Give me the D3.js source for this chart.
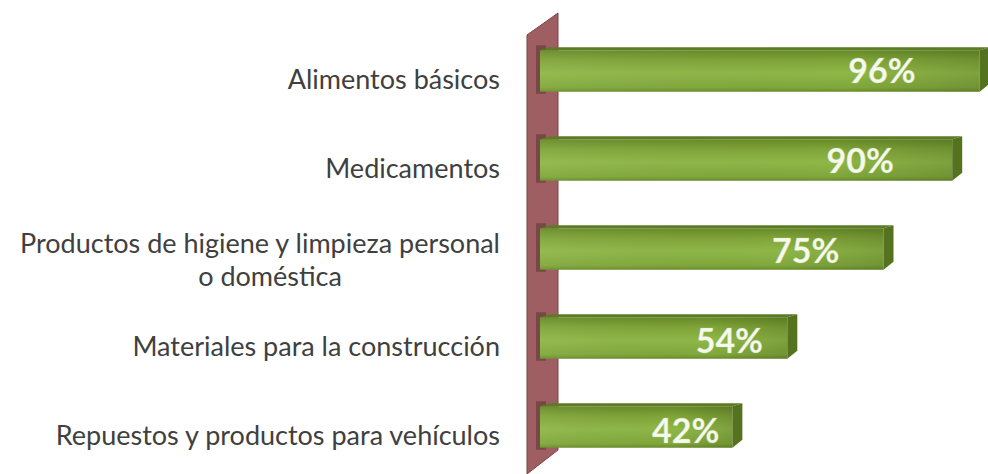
<!DOCTYPE html>
<html>
<head>
<meta charset="utf-8">
<script src="https://cdn.jsdelivr.net/npm/d3@7"></script>
<style>
  body { margin: 0; background: #fff; }
  svg { display: block; }
</style>
</head>
<body>
<div id="chart"></div>
<script>
const categories = [
  "Alimentos básicos",
  "Medicamentos",
  "Productos de higiene y limpieza personal|o doméstica",
  "Materiales para la construcción",
  "Repuestos y productos para vehículos"
];
const values = [96, 90, 75, 54, 42];
const valueLabels = ["96%", "90%", "75%", "54%", "42%"];

const width = 988, height = 474;
const data = categories.map((c, i) => ({cat: c, value: values[i], label: valueLabels[i]}));

const svg = d3.select("#chart").append("svg")
    .attr("width", width)
    .attr("height", height);

const defs = svg.append("defs");
const grad = defs.append("linearGradient")
    .attr("id", "barFront")
    .attr("x1", 0).attr("y1", 0).attr("x2", 0).attr("y2", 1);
grad.append("stop").attr("offset", "0%").attr("stop-color", "#678a28");
grad.append("stop").attr("offset", "25%").attr("stop-color", "#80a539");
grad.append("stop").attr("offset", "55%").attr("stop-color", "#8fb747");
grad.append("stop").attr("offset", "90%").attr("stop-color", "#80a73b");
grad.append("stop").attr("offset", "100%").attr("stop-color", "#6a8c2b");

const hgrad = defs.append("linearGradient")
    .attr("id", "barShade")
    .attr("x1", 0).attr("y1", 0).attr("x2", 1).attr("y2", 0);
hgrad.append("stop").attr("offset", "0%").attr("stop-color", "#ffffff").attr("stop-opacity", 0.05);
hgrad.append("stop").attr("offset", "70%").attr("stop-color", "#000000").attr("stop-opacity", 0);
hgrad.append("stop").attr("offset", "100%").attr("stop-color", "#000000").attr("stop-opacity", 0.12);

const x = d3.scaleLinear().domain([0, 100]).range([540, 998]);
const y = d3.scaleBand()
    .domain(categories)
    .range([25, 470])
    .paddingInner(0.5)
    .paddingOuter(0.25);

const depth = 10, rise = 3, sideDrop = 8;

// back wall (3D axis)
const x0 = x(0);
const wallL = x0 - 13, wallR = x0 + 18;
svg.append("polygon")
    .attr("points", [[wallL, 35], [wallR, 13], [wallR, 450], [wallL, 474]].join(" "))
    .attr("fill", "#9e5e62")
    .attr("stroke", "#7d4347")
    .attr("stroke-width", 1);

const rows = svg.selectAll(".row")
  .data(data)
  .enter().append("g")
    .attr("class", "row");

// shadow where the bar meets the wall
rows.append("rect")
    .attr("x", x0 - 4)
    .attr("y", d => y(d.cat) - 2)
    .attr("width", 10)
    .attr("height", y.bandwidth() + 4)
    .attr("fill", "#5e3a32")
    .attr("opacity", 0.6);

// top face
rows.append("polygon")
    .attr("points", d => {
      const t = y(d.cat), x1 = x(d.value);
      return [[x0, t + rise], [x1, t + rise], [x1 + depth, t], [x0 + depth, t]].join(" ");
    })
    .attr("fill", "#5b7b24");

// front face
rows.append("rect")
    .attr("x", x0)
    .attr("y", d => y(d.cat) + rise)
    .attr("width", d => x(d.value) - x0)
    .attr("height", y.bandwidth() - rise)
    .attr("fill", "url(#barFront)");

rows.append("rect")
    .attr("x", x0)
    .attr("y", d => y(d.cat) + rise)
    .attr("width", d => x(d.value) - x0)
    .attr("height", y.bandwidth() - rise)
    .attr("fill", "url(#barShade)");

// side face
rows.append("polygon")
    .attr("points", d => {
      const t = y(d.cat), b = t + y.bandwidth(), x1 = x(d.value);
      return [[x1, t + rise], [x1 + depth, t], [x1 + depth, b - sideDrop], [x1, b]].join(" ");
    })
    .attr("fill", "#55731f");

// value labels
const labelGap = d3.scaleLinear().domain([42, 96]).range([13, 64]);
rows.append("text")
    .attr("x", d => x(d.value) - labelGap(d.value))
    .attr("y", (d, i) => y(d.cat) + y.bandwidth() / 2 + 13 + i * 1.2)
    .attr("text-anchor", "end")
    .attr("font-family", "Lato, 'Open Sans', sans-serif")
    .attr("font-weight", "bold")
    .attr("font-size", 34)
    .attr("fill", "#f6f9ee")
    .attr("stroke", "#c9dca0")
    .attr("stroke-width", 0.6)
    .attr("stroke-opacity", 0.5)
    .text(d => d.label);

// category labels
const catX = 500;
rows.each(function (d) {
  const lines = d.cat.split("|");
  const g = d3.select(this);
  const cy = y(d.cat) + y.bandwidth() / 2;
  const t = g.append("text")
      .attr("font-family", "Lato, 'Open Sans', sans-serif")
      .attr("font-size", 27)
      .attr("fill", "#404040");
  if (lines.length === 1) {
    t.attr("x", catX).attr("y", cy + 19).attr("text-anchor", "end").text(lines[0]);
  } else {
    const first = t.append("tspan").attr("x", catX).attr("y", cy + 5)
        .attr("text-anchor", "end").text(lines[0]);
    const w = first.node().getComputedTextLength();
    t.append("tspan").attr("x", catX - w / 2 + 10).attr("y", cy + 38)
        .attr("text-anchor", "middle").text(lines[1]);
  }
});
</script>
</body>
</html>
